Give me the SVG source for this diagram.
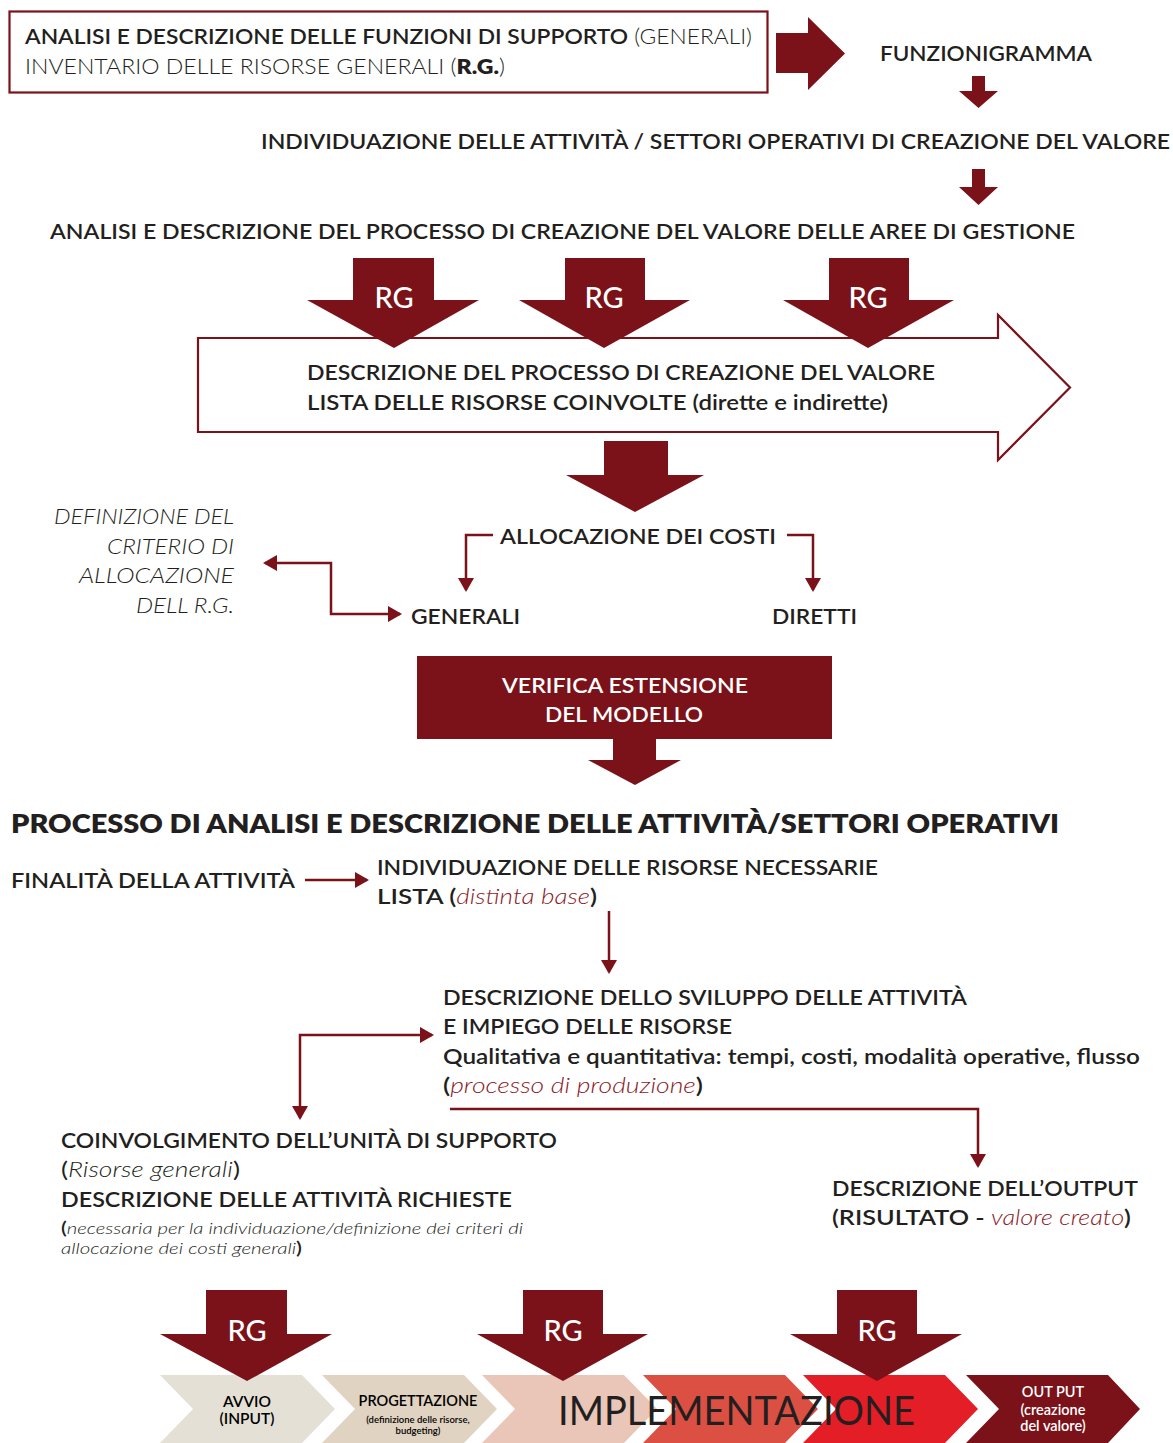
<svg xmlns="http://www.w3.org/2000/svg" width="1173" height="1443" viewBox="0 0 1173 1443">
  <defs>
    <style>
      .t { font-family: Lato, "Open Sans", "Liberation Sans", sans-serif; fill: #231f20; font-size: 21px; }
      .m { font-weight: 600; }
      .b { font-weight: 800; }
      .l { font-weight: 300; }
      .i { font-style: italic; }
      .red { fill: #8b1a1f; }
      .w { fill: #ffffff; }
      .rg { font-family: Lato, "Open Sans", "Liberation Sans", sans-serif; fill: #ffffff; font-size: 29px; font-weight: 500; text-anchor: middle; }
      .block { fill: #7b1219; }
      .wire { fill: none; stroke: #7b1219; stroke-width: 2.5; }
      .chev-t { font-family: Lato, "Open Sans", "Liberation Sans", sans-serif; font-weight: 600; text-anchor: middle; }
    </style>
    <marker id="head" viewBox="0 0 14 16" refX="12" refY="8" markerWidth="14" markerHeight="16" markerUnits="userSpaceOnUse" orient="auto-start-reverse">
      <path d="M0,0 L14,8 L0,16 z" fill="#7b1219"/>
    </marker>
  </defs>

  <rect width="1173" height="1443" fill="#ffffff"/>

  <!-- support functions box -->
  <g id="support-box">
    <rect x="9.5" y="11.5" width="758" height="81" fill="#ffffff" stroke="#7b1219" stroke-width="2.2"/>
    <text class="t" x="25" y="44" textLength="727" lengthAdjust="spacingAndGlyphs"><tspan class="m">ANALISI E DESCRIZIONE DELLE FUNZIONI DI SUPPORTO</tspan><tspan class="l"> (GENERALI)</tspan></text>
    <text class="t l" x="25" y="74" textLength="480" lengthAdjust="spacingAndGlyphs">INVENTARIO DELLE RISORSE GENERALI (<tspan class="b">R.G.</tspan>)</text>
  </g>

  <g id="funzionigramma">
    <text class="t m" x="880" y="61" textLength="212" lengthAdjust="spacingAndGlyphs">FUNZIONIGRAMMA</text>
  </g>

  <g id="individuazione-attivita">
    <text class="t m" x="261" y="149" textLength="909" lengthAdjust="spacingAndGlyphs">INDIVIDUAZIONE DELLE ATTIVITÀ / SETTORI OPERATIVI DI CREAZIONE DEL VALORE</text>
  </g>

  <g id="analisi-processo">
    <text class="t m" x="50" y="239" textLength="1025" lengthAdjust="spacingAndGlyphs">ANALISI E DESCRIZIONE DEL PROCESSO DI CREAZIONE DEL VALORE DELLE AREE DI GESTIONE</text>
  </g>

  <!-- outlined process arrow -->
  <g id="processo-creazione">
    <path d="M198,338 H998 V315 L1070,387.5 L998,460 V432 H198 Z" fill="#ffffff" stroke="#7b1219" stroke-width="2.2"/>
    <text class="t m" x="307" y="380" textLength="628" lengthAdjust="spacingAndGlyphs">DESCRIZIONE DEL PROCESSO DI CREAZIONE DEL VALORE</text>
    <text class="t m" x="307" y="410" textLength="581" lengthAdjust="spacingAndGlyphs">LISTA DELLE RISORSE COINVOLTE (dirette e indirette)</text>
  </g>

  <!-- RG inputs onto the process arrow -->
  <g id="rg-top-1">
    <polygon class="block" points="353,258 434,258 434,300 479,300 394,348 307,300 353,300"/>
    <text class="rg" x="394" y="308">RG</text>
  </g>
  <g id="rg-top-2">
    <polygon class="block" points="565,258 645,258 645,300 690,300 604,348 519,300 565,300"/>
    <text class="rg" x="604" y="308">RG</text>
  </g>
  <g id="rg-top-3">
    <polygon class="block" points="829,258 909,258 909,300 954,300 868,348 783,300 829,300"/>
    <text class="rg" x="868" y="308">RG</text>
  </g>

  <g id="allocazione">
    <text class="t m" x="500" y="544" textLength="276" lengthAdjust="spacingAndGlyphs">ALLOCAZIONE DEI COSTI</text>
  </g>
  <g id="generali">
    <text class="t m" x="411" y="624" textLength="109" lengthAdjust="spacingAndGlyphs">GENERALI</text>
  </g>
  <g id="diretti">
    <text class="t m" x="772" y="624" textLength="85" lengthAdjust="spacingAndGlyphs">DIRETTI</text>
  </g>

  <g id="criterio">
    <text class="t l i" x="234" y="524" text-anchor="end" textLength="180" lengthAdjust="spacingAndGlyphs">DEFINIZIONE DEL</text>
    <text class="t l i" x="234" y="554" text-anchor="end" textLength="127" lengthAdjust="spacingAndGlyphs">CRITERIO DI</text>
    <text class="t l i" x="234" y="583" text-anchor="end" textLength="155" lengthAdjust="spacingAndGlyphs">ALLOCAZIONE</text>
    <text class="t l i" x="234" y="613" text-anchor="end" textLength="98" lengthAdjust="spacingAndGlyphs">DELL R.G.</text>
  </g>

  <g id="verifica">
    <rect class="block" x="417" y="656" width="415" height="83"/>
    <text class="t m w" x="502" y="693" textLength="246" lengthAdjust="spacingAndGlyphs">VERIFICA ESTENSIONE</text>
    <text class="t m w" x="545" y="722" textLength="158" lengthAdjust="spacingAndGlyphs">DEL MODELLO</text>
  </g>

  <g id="titolo-processo">
    <text class="t b" x="11" y="833" style="font-size:26px" textLength="1048" lengthAdjust="spacingAndGlyphs">PROCESSO DI ANALISI E DESCRIZIONE DELLE ATTIVITÀ/SETTORI OPERATIVI</text>
  </g>

  <g id="finalita">
    <text class="t m" x="11" y="888" textLength="284" lengthAdjust="spacingAndGlyphs">FINALITÀ DELLA ATTIVITÀ</text>
  </g>

  <g id="risorse-necessarie">
    <text class="t m" x="377" y="875" textLength="501" lengthAdjust="spacingAndGlyphs">INDIVIDUAZIONE DELLE RISORSE NECESSARIE</text>
    <text class="t m" x="377" y="904" textLength="220" lengthAdjust="spacingAndGlyphs">LISTA (<tspan class="l i red">distinta base</tspan>)</text>
  </g>

  <g id="sviluppo">
    <text class="t m" x="443" y="1005" textLength="524" lengthAdjust="spacingAndGlyphs">DESCRIZIONE DELLO SVILUPPO DELLE ATTIVITÀ</text>
    <text class="t m" x="443" y="1034" textLength="289" lengthAdjust="spacingAndGlyphs">E IMPIEGO DELLE RISORSE</text>
    <text class="t m" x="443" y="1064" textLength="697" lengthAdjust="spacingAndGlyphs">Qualitativa e quantitativa: tempi, costi, modalità operative, flusso</text>
    <text class="t m" x="443" y="1093" textLength="260" lengthAdjust="spacingAndGlyphs">(<tspan class="l i red">processo di produzione</tspan>)</text>
  </g>

  <g id="coinvolgimento">
    <text class="t m" x="61" y="1148" textLength="496" lengthAdjust="spacingAndGlyphs">COINVOLGIMENTO DELL’UNITÀ DI SUPPORTO</text>
    <text class="t" x="61" y="1177" textLength="179" lengthAdjust="spacingAndGlyphs">(<tspan class="l i">Risorse generali</tspan>)</text>
    <text class="t m" x="61" y="1207" textLength="451" lengthAdjust="spacingAndGlyphs">DESCRIZIONE DELLE ATTIVITÀ RICHIESTE</text>
    <text class="t" x="61" y="1234" style="font-size:16px" textLength="462" lengthAdjust="spacingAndGlyphs"><tspan class="m" style="font-size:17px">(</tspan><tspan class="l i">necessaria per la individuazione/definizione dei criteri di</tspan></text>
    <text class="t" x="61" y="1254" style="font-size:16px" textLength="241" lengthAdjust="spacingAndGlyphs"><tspan class="l i">allocazione dei costi generali</tspan><tspan class="m" style="font-size:17px">)</tspan></text>
  </g>

  <g id="output">
    <text class="t m" x="832" y="1196" textLength="306" lengthAdjust="spacingAndGlyphs">DESCRIZIONE DELL’OUTPUT</text>
    <text class="t m" x="832" y="1225" textLength="299" lengthAdjust="spacingAndGlyphs">(RISULTATO - <tspan class="l i red">valore creato</tspan>)</text>
  </g>

  <!-- phase chevrons -->
  <g id="fase-avvio">
    <polygon fill="#e4e0d6" points="160,1375 302,1375 335,1409 302,1443 160,1443 193,1409"/>
    <text class="chev-t" x="247" y="1407" font-size="15.5">AVVIO</text>
    <text class="chev-t" x="247" y="1424" font-size="15.5">(INPUT)</text>
  </g>
  <g id="fase-progettazione">
    <polygon fill="#e1d3c1" points="322,1375 464,1375 497,1409 464,1443 322,1443 355,1409"/>
    <text class="chev-t" x="418" y="1406" font-size="14.5">PROGETTAZIONE</text>
    <text class="chev-t" x="418" y="1423" font-size="9.5" font-weight="400">(definizione delle risorse,</text>
    <text class="chev-t" x="418" y="1434" font-size="9.5" font-weight="400">budgeting)</text>
  </g>
  <g id="fase-implementazione">
    <polygon fill="#e9c6b7" points="482,1375 624,1375 657,1409 624,1443 482,1443 515,1409"/>
    <polygon fill="#dc4f43" points="643,1375 785,1375 818,1409 785,1443 643,1443 676,1409"/>
    <polygon fill="#e31e26" points="803,1375 945,1375 978,1409 945,1443 803,1443 836,1409"/>
    <text class="t" x="558" y="1425" style="font-size:40px; font-weight:400" textLength="357" lengthAdjust="spacingAndGlyphs">IMPLEMENTAZIONE</text>
  </g>
  <g id="fase-output">
    <polygon fill="#7b1219" points="966,1375 1108,1375 1140,1409 1108,1443 966,1443 999,1409"/>
    <text class="chev-t w" x="1053" y="1397" font-size="14.5" font-weight="500">OUT PUT</text>
    <text class="chev-t w" x="1053" y="1415" font-size="14.5" font-weight="500">(creazione</text>
    <text class="chev-t w" x="1053" y="1431" font-size="14.5" font-weight="500">del valore)</text>
  </g>

  <!-- RG inputs onto the phases -->
  <g id="rg-bottom-1">
    <polygon class="block" points="206,1290 287,1290 287,1334 332,1334 247,1381 160,1334 206,1334"/>
    <text class="rg" x="247" y="1341">RG</text>
  </g>
  <g id="rg-bottom-2">
    <polygon class="block" points="523,1290 603,1290 603,1334 648,1334 563,1381 477,1334 523,1334"/>
    <text class="rg" x="563" y="1341">RG</text>
  </g>
  <g id="rg-bottom-3">
    <polygon class="block" points="837,1290 917,1290 917,1334 962,1334 877,1381 790,1334 837,1334"/>
    <text class="rg" x="877" y="1341">RG</text>
  </g>

  <!-- connectors -->
  <g id="connectors">
    <!-- block arrows -->
    <polygon class="block" points="776,33 808,33 808,17 845,53.5 808,90 808,73 776,73"/>
    <polygon class="block" points="972,76 985,76 985,91 998,91 978.5,108 959,91 972,91"/>
    <polygon class="block" points="972,169 985,169 985,187 998,187 978.5,205 959,187 972,187"/>
    <polygon class="block" points="604,441 668,441 668,475 704,475 635,512 566,475 604,475"/>
    <polygon class="block" points="613,739 656,739 656,760 681,760 635,785 588,760 613,760"/>
    <!-- thin connectors -->
    <polyline class="wire" points="493,535 466,535 466,590" marker-end="url(#head)"/>
    <polyline class="wire" points="787,535 813,535 813,590" marker-end="url(#head)"/>
    <polyline class="wire" points="265,563 331,563 331,614 400,614" marker-start="url(#head)" marker-end="url(#head)"/>
    <line class="wire" x1="305" y1="880" x2="367" y2="880" marker-end="url(#head)"/>
    <line class="wire" x1="609" y1="911" x2="609" y2="972" marker-end="url(#head)"/>
    <polyline class="wire" points="432,1035 300,1035 300,1118" marker-start="url(#head)" marker-end="url(#head)"/>
    <polyline class="wire" points="450,1109 978,1109 978,1166" marker-end="url(#head)"/>
  </g>
</svg>
